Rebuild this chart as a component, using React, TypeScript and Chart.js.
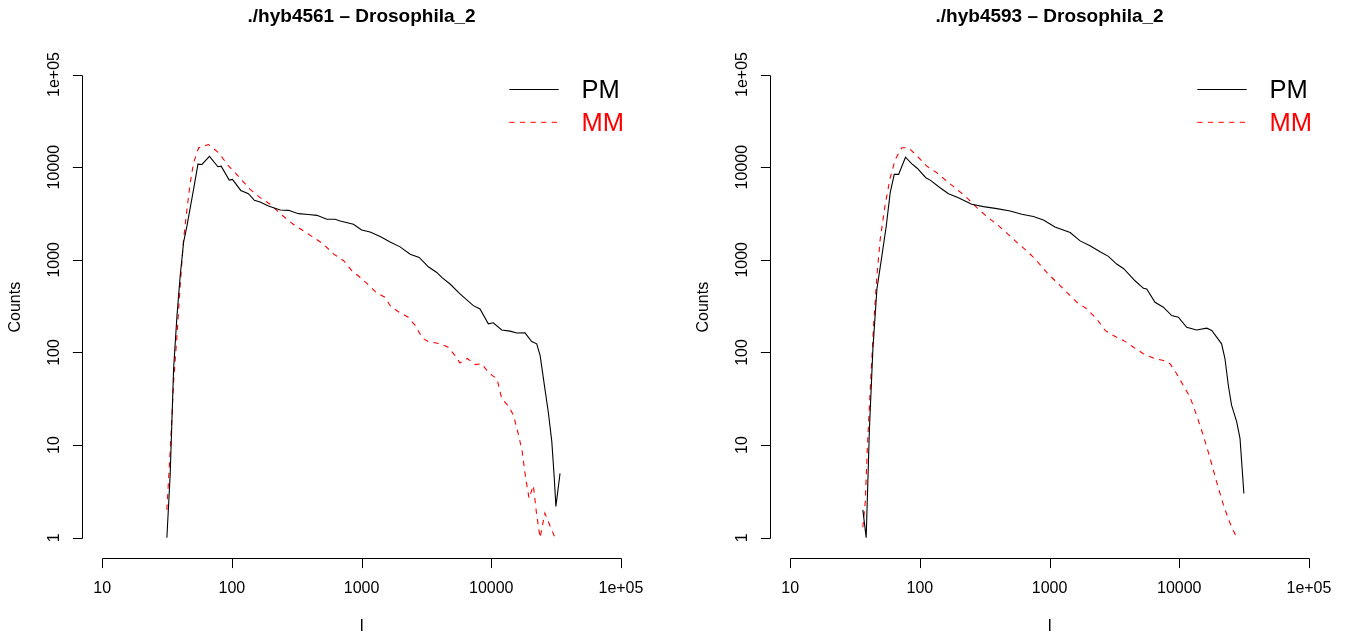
import React, { useEffect, useRef } from 'react';
import { Chart, registerables } from 'chart.js';

Chart.register(...registerables);

// ---------- data ----------
const X_TICKS = [10, 100, 1000, 10000, 100000];
const X_TICK_LABELS = ['10', '100', '1000', '10000', '1e+05'];
const Y_TICKS = [1, 10, 100, 1000, 10000, 100000];
const Y_TICK_LABELS = ['1', '10', '100', '1000', '10000', '1e+05'];

const X_LABEL = 'I';
const Y_LABEL = 'Counts';
const SERIES_NAMES = ['PM', 'MM'];
const TITLES = ['./hyb4561 – Drosophila_2', './hyb4593 – Drosophila_2'];

const LEFT_PM_I = [31.5, 33.4, 35.5, 37.7, 39.9, 42.4, 45, 50.6, 54.7, 58.7, 67.1, 78, 82.6, 95.3, 101, 117, 134, 149, 165, 191, 236, 273, 326, 389, 452, 540, 625, 683, 865, 1000, 1163, 1390, 1660, 1980, 2370, 2780, 3270, 3800, 4150, 4810, 5740, 7270, 8190, 9490, 10370, 12030, 13960, 15710, 18200, 20500, 22400, 23800, 25900, 27500, 29300, 30500, 31500, 33900];
const LEFT_PM_COUNTS = [1, 4.75, 67, 250, 670, 1550, 2320, 5760, 10770, 10700, 13100, 10100, 10250, 7250, 7380, 5610, 5170, 4385, 4200, 3800, 3450, 3420, 3150, 3090, 3020, 2740, 2740, 2630, 2420, 2100, 2000, 1780, 1560, 1380, 1150, 1060, 840, 730, 645, 548, 428, 320, 295, 204, 209, 175, 170, 162, 163, 131, 124, 93, 40.7, 22.9, 10.9, 4.76, 2.18, 4.96];

const LEFT_MM_I = [31.5, 33.4, 35.5, 37.7, 39.9, 42.4, 45, 47.7, 50.6, 55.4, 66, 79, 94.5, 112, 138, 165, 197, 248, 297, 357, 427, 509, 610, 728, 843, 977, 1130, 1310, 1520, 1660, 1920, 2290, 2600, 2940, 3270, 4020, 4650, 5240, 5740, 6550, 7520, 8440, 9250, 10130, 11070, 12030, 13700, 14830, 16250, 17320, 18420, 19560, 21100, 22400, 23800, 25900, 31000];
const LEFT_MM_COUNTS = [2, 8.5, 48, 152, 525, 1670, 3510, 6770, 11150, 16200, 17550, 14300, 10250, 8000, 5760, 4690, 3980, 2970, 2420, 2050, 1740, 1475, 1150, 977, 762, 645, 535, 438, 394, 320, 275, 240, 195, 143, 131, 124, 114, 93, 77, 86, 74, 75.5, 64, 56.6, 52, 31.8, 25.9, 21, 12.8, 8.5, 4.4, 2.67, 3.66, 1.77, 1.0, 1.84, 1.0];

const RIGHT_PM_I = [36.3, 38.5, 40.8, 43.4, 46.6, 50.9, 55, 59, 63.4, 68.5, 77.4, 86.7, 95.7, 111, 120, 143, 166, 198, 251, 309, 392, 496, 611, 750, 896, 1100, 1440, 1720, 2050, 2450, 2840, 3290, 3710, 4560, 5290, 5610, 6500, 7540, 8740, 9840, 11400, 13600, 16300, 17800, 21200, 22500, 23900, 25300, 27700, 29400, 31500];
const RIGHT_PM_COUNTS = [2, 1, 15, 110, 484, 1104, 2320, 5310, 8360, 8360, 12800, 10870, 9680, 7690, 7250, 6000, 5170, 4690, 3980, 3750, 3570, 3370, 3100, 2930, 2690, 2260, 1970, 1600, 1415, 1220, 1090, 900, 807, 594, 492, 484, 348, 308, 250, 240, 187, 175, 183, 173, 124, 86, 44, 27, 17.9, 11.8, 3.0];

const RIGHT_MM_I = [36.3, 37.9, 39.4, 41.4, 43.9, 46.6, 49.4, 54, 59, 64.5, 72.5, 81.7, 95.7, 113, 135, 161, 193, 230, 275, 328, 392, 468, 559, 667, 796, 951, 1135, 1358, 1622, 1936, 2312, 2680, 3100, 3710, 4430, 5290, 6310, 7540, 8490, 9550, 10750, 12100, 13600, 15300, 17300, 19400, 21900, 24600, 27700];
const RIGHT_MM_COUNTS = [1.3, 2.46, 10, 40.7, 195, 673, 1670, 3980, 7690, 12100, 16200, 16200, 13100, 10250, 8710, 7080, 5760, 4690, 3660, 2930, 2420, 1940, 1540, 1250, 977, 730, 571, 446, 348, 295, 230, 173, 152, 135, 114, 97, 87, 82, 75.5, 59, 44, 33, 21, 12.8, 7.2, 4.0, 2.26, 1.44, 1.0];

// ---------- styling / layout ----------
const FONT = '"Liberation Sans", Arial, Helvetica, sans-serif';
const CANVAS_W = 657;
const CANVAS_H = 641;
const AREA = { left: 81.5, top: 56, right: 641.7, bottom: 558.3 };
const TICK_LEN = 9.6;

const toPoints = (xs: number[], ys: number[]) => xs.map((x, i) => ({ x, y: ys[i] }));

const rPlotPlugin = {
  id: 'rPlot',
  afterDraw(chart: any, _args: any, opts: any) {
    const { ctx, chartArea } = chart;
    const xs = chart.scales.x;
    const ys = chart.scales.y;
    ctx.save();
    ctx.strokeStyle = '#000';
    ctx.fillStyle = '#000';
    ctx.lineWidth = 1;

    // x axis
    const ax = Math.round(chartArea.bottom) + 0.5;
    ctx.beginPath();
    const xFirst = Math.round(xs.getPixelForValue(X_TICKS[0])) + 0.5;
    const xLast = Math.round(xs.getPixelForValue(X_TICKS[X_TICKS.length - 1])) + 0.5;
    ctx.moveTo(xFirst, ax);
    ctx.lineTo(xLast, ax);
    X_TICKS.forEach((v) => {
      const px = Math.round(xs.getPixelForValue(v)) + 0.5;
      ctx.moveTo(px, ax);
      ctx.lineTo(px, ax + TICK_LEN);
    });
    ctx.stroke();

    ctx.font = `16px ${FONT}`;
    ctx.textAlign = 'center';
    ctx.textBaseline = 'alphabetic';
    X_TICKS.forEach((v, i) => {
      ctx.fillText(X_TICK_LABELS[i], xs.getPixelForValue(v), chartArea.bottom + 34.6);
    });

    // y axis
    const ay = Math.round(chartArea.left) + 0.5;
    ctx.beginPath();
    const yFirst = Math.round(ys.getPixelForValue(Y_TICKS[0])) + 0.5;
    const yLast = Math.round(ys.getPixelForValue(Y_TICKS[Y_TICKS.length - 1])) + 0.5;
    ctx.moveTo(ay, yFirst);
    ctx.lineTo(ay, yLast);
    Y_TICKS.forEach((v) => {
      const py = Math.round(ys.getPixelForValue(v)) + 0.5;
      ctx.moveTo(ay, py);
      ctx.lineTo(ay - TICK_LEN, py);
    });
    ctx.stroke();

    Y_TICKS.forEach((v, i) => {
      ctx.save();
      ctx.translate(chartArea.left - 22.7, ys.getPixelForValue(v));
      ctx.rotate(-Math.PI / 2);
      ctx.fillText(Y_TICK_LABELS[i], 0, 0);
      ctx.restore();
    });

    // axis titles
    const cx = (chartArea.left + chartArea.right) / 2;
    const cy = (chartArea.top + chartArea.bottom) / 2;
    ctx.fillText(X_LABEL, cx, chartArea.bottom + 73);
    ctx.save();
    ctx.translate(chartArea.left - 61.4, cy);
    ctx.rotate(-Math.PI / 2);
    ctx.fillText(Y_LABEL, 0, 0);
    ctx.restore();

    // main title
    ctx.font = `bold 19px ${FONT}`;
    ctx.fillText(opts.title, cx, 22);

    // legend
    const lg = opts.legend;
    ctx.font = `25.5px ${FONT}`;
    ctx.textAlign = 'left';
    chart.data.datasets.forEach((ds: any, i: number) => {
      const ly = lg.y + i * lg.step;
      ctx.save();
      ctx.strokeStyle = ds.borderColor;
      ctx.lineWidth = 1;
      ctx.setLineDash(ds.borderDash || []);
      ctx.beginPath();
      ctx.moveTo(lg.lineX0, ly + 0.5);
      ctx.lineTo(lg.lineX1, ly + 0.5);
      ctx.stroke();
      ctx.restore();
      ctx.fillStyle = ds.borderColor;
      ctx.fillText(ds.label, lg.textX, ly + 8.8);
    });
    ctx.restore();
  },
};

function Panel({ left, title, pmI, pmC, mmI, mmC }: any) {
  const ref = useRef<HTMLCanvasElement | null>(null);
  useEffect(() => {
    if (!ref.current) return;
    const chart = new Chart(ref.current, {
      type: 'line',
      data: {
        datasets: [
          {
            label: SERIES_NAMES[0],
            data: toPoints(pmI, pmC),
            borderColor: '#000000',
            borderWidth: 1.1,
            pointRadius: 0,
            tension: 0,
            fill: false,
          },
          {
            label: SERIES_NAMES[1],
            data: toPoints(mmI, mmC),
            borderColor: '#FF0000',
            borderWidth: 1.1,
            borderDash: [5.3, 5.3],
            pointRadius: 0,
            tension: 0,
            fill: false,
          },
        ],
      },
      options: {
        animation: false,
        responsive: false,
        devicePixelRatio: 1,
        parsing: true,
        layout: {
          padding: {
            left: AREA.left,
            top: AREA.top,
            right: CANVAS_W - AREA.right,
            bottom: CANVAS_H - AREA.bottom,
          },
        },
        scales: {
          x: { type: 'logarithmic', min: Math.pow(10, 0.84), max: Math.pow(10, 5.16), display: false },
          y: { type: 'logarithmic', min: Math.pow(10, -0.2), max: Math.pow(10, 5.2), display: false },
        },
        plugins: {
          legend: { display: false },
          tooltip: { enabled: false },
          title: { display: false },
          rPlot: {
            title,
            legend: { lineX0: 509.3, lineX1: 558.7, textX: 581.5, y: 89, step: 32.8 },
          },
        } as any,
      },
      plugins: [rPlotPlugin],
    } as any);
    return () => chart.destroy();
  }, []);
  return (
    <canvas
      ref={ref}
      width={CANVAS_W}
      height={CANVAS_H}
      style={{ position: 'absolute', left, top: 0, width: CANVAS_W, height: CANVAS_H }}
    />
  );
}

export default function App() {
  return (
    <div
      style={{
        position: 'fixed',
        left: 0,
        top: 0,
        width: 1345,
        height: 641,
        background: '#fff',
        overflow: 'hidden',
      }}
    >
      <Panel left={0} title={TITLES[0]} pmI={LEFT_PM_I} pmC={LEFT_PM_COUNTS} mmI={LEFT_MM_I} mmC={LEFT_MM_COUNTS} />
      <Panel left={688} title={TITLES[1]} pmI={RIGHT_PM_I} pmC={RIGHT_PM_COUNTS} mmI={RIGHT_MM_I} mmC={RIGHT_MM_COUNTS} />
    </div>
  );
}
